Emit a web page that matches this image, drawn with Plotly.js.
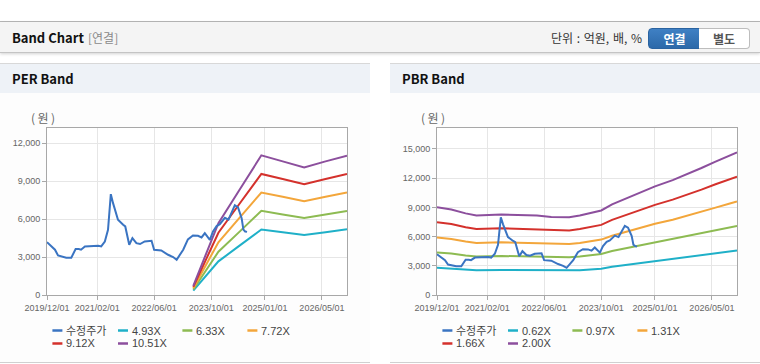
<!DOCTYPE html>
<html>
<head>
<meta charset="utf-8">
<script src="https://cdn.plot.ly/plotly-3.0.1.min.js"></script>
<style>
html,body{margin:0;padding:0;width:760px;height:364px;overflow:hidden;background:#fff;
  font-family:"Noto Sans CJK KR","Noto Sans",sans-serif;}
#topline{position:absolute;left:0;top:21px;width:760px;height:1px;background:#b8b8b8;}
#hdr{position:absolute;left:0;top:22px;width:760px;height:30px;background:#f4f4f4;
  border-bottom:1px solid #c4c4c4;box-shadow:0 1px 3px rgba(0,0,0,0.18);}
#hdr .t{position:absolute;left:12px;top:0;line-height:31px;font-size:13px;font-weight:bold;color:#111;}
#hdr .s{position:absolute;left:88px;top:0;line-height:31px;font-size:12px;color:#8a8a8a;}
#hdr .u{position:absolute;left:551px;top:0;line-height:31px;font-size:12px;color:#333;word-spacing:1px;}
.btn{position:absolute;top:6px;height:19px;line-height:19px;font-size:12px;font-weight:bold;text-align:center;}
#b1{left:648px;width:51px;background:linear-gradient(#3f80c4,#2c69a9);color:#fff;border:1px solid #2a63a0;border-radius:4px 0 0 4px;}
#b2{left:699px;width:50px;background:#fff;color:#555;border:1px solid #bdbdbd;border-left:none;border-radius:0 4px 4px 0;}
.panel{position:absolute;top:63px;width:370px;height:298px;background:#fdfdfd;border-top:1px solid #d8d8d8;border-bottom:1px solid #d0d0d0;}
.ptitle{height:29px;background:#eef2f7;font-weight:bold;font-size:13px;line-height:30px;padding-left:12px;color:#111;}
.chart{position:absolute;left:0;top:29px;width:370px;height:268px;}
</style>
</head>
<body>
<div id="topline"></div>
<div id="hdr">
  <div class="t">Band Chart</div>
  <div class="s">[연결]</div>
  <div class="u">단위 : 억원, 배, %</div>
  <div class="btn" id="b1">연결</div>
  <div class="btn" id="b2">별도</div>
</div>
<div class="panel" style="left:0;">
  <div class="ptitle">PER Band</div>
  <div class="chart" id="per"></div>
</div>
<div class="panel" style="left:390px;">
  <div class="ptitle">PBR Band</div>
  <div class="chart" id="pbr"></div>
</div>
<script>
// ---------- shared axis ticks ----------
const xTickVals = ['2019-12-01','2021-02-01','2022-06-01','2023-10-01','2025-01-01','2026-05-01'];
const xTickText = ['2019/12/01','2021/02/01','2022/06/01','2023/10/01','2025/01/01','2026/05/01'];
const xRange = ['2019-12-01','2026-12-01'];

// ---------- adjusted share price (수정주가) ----------
const priceDates = ['2019-12-01','2020-01-07','2020-02-07','2020-03-04','2020-04-16','2020-05-13','2020-06-25',
  '2020-08-01','2020-08-28','2020-09-16','2020-10-19','2021-01-13','2021-02-10','2021-03-07','2021-04-07',
  '2021-05-04','2021-05-19','2021-05-28','2021-06-16','2021-07-28','2021-09-10','2021-09-28','2021-11-01',
  '2021-11-28','2022-01-01','2022-02-01','2022-03-13','2022-05-10','2022-06-01','2022-08-01','2022-09-28',
  '2022-11-10','2022-12-10','2023-01-07','2023-02-04','2023-03-16','2023-04-28','2023-06-10','2023-07-10',
  '2023-08-07','2023-09-19','2023-10-16','2023-11-16','2023-12-13','2024-01-25','2024-02-25','2024-03-22',
  '2024-04-19','2024-05-16','2024-06-16','2024-07-01','2024-07-16','2024-08-01'];
const priceVals = [4180,3840,3580,3130,3020,2950,2950,
  3630,3630,3580,3840,3890,3900,3840,4230,
  5150,6730,7970,7260,5950,5550,5420,3970,
  4500,4100,4030,4230,4290,3580,3520,3180,
  3000,2790,3200,3580,4400,4700,4680,4550,
  4880,4350,5020,5450,5600,6100,5950,6570,
  7100,6920,6070,5170,5020,4990];

// ---------- PER bands ----------
const perDates = ['2023-05-01','2023-08-01','2023-12-01','2024-06-01','2024-12-01','2025-06-01','2025-12-01','2026-06-01','2026-12-01'];
const perNames = ['4.93X','6.33X','7.72X','9.12X','10.51X'];
const per493  = [350, 1340, 2660, 3920, 5180, 4960, 4740, 4960, 5190];
const per633  = [440, 1720, 3420, 5030, 6650, 6360, 6080, 6360, 6640];
const per772  = [540, 2090, 4170, 6140, 8100, 7760, 7410, 7760, 8100];
const per912  = [640, 2470, 4920, 7250, 9570, 9170, 8760, 9170, 9560];
const per1051 = [730, 2850, 5680, 8360, 11040, 10560, 10080, 10560, 11000];

// ---------- PBR bands ----------
const pbrDates = ['2019-12-01','2020-04-01','2020-08-01','2020-11-01','2021-06-01','2022-04-01','2022-08-01',
  '2023-01-01','2023-04-01','2023-07-01','2023-10-01','2024-01-01','2024-04-01','2024-08-01','2025-01-01',
  '2025-06-01','2025-10-01','2026-02-01','2026-06-01','2026-10-01','2026-12-01'];
const pbrNames = ['0.62X','0.97X','1.31X','1.66X','2.00X'];
const pbr062 = [2810,2730,2600,2540,2570,2540,2500,2490,2540,2610,2700,2890,3030,3230,3460,3660,3850,4050,4250,4450,4570];
const pbr097 = [4370,4260,4060,3960,4010,3960,3890,3870,3960,4070,4210,4510,4730,5040,5410,5720,6010,6320,6640,6950,7100];
const pbr131 = [5900,5750,5490,5350,5410,5350,5250,5230,5350,5500,5690,6090,6390,6810,7310,7730,8120,8540,8970,9390,9610];
const pbr166 = [7470,7290,6960,6770,6860,6770,6660,6620,6770,6970,7200,7720,8100,8630,9260,9790,10290,10820,11370,11900,12140];
const pbr200 = [9000,8780,8380,8160,8260,8160,8020,7980,8160,8400,8680,9300,9760,10400,11160,11800,12400,13040,13700,14340,14650];

const priceName = '수정주가';
const priceColor = '#3a74c2';
const bandColors = ['#1fb0c8','#8dbb52','#f3a63b','#d4312c','#8c4f9d'];

function buildChart(id, bandDates, bandSeries, bandNames, yMax) {
  const traces = [];
  bandSeries.forEach((vals, i) => {
    traces.push({type:'scatter', mode:'lines', x:bandDates, y:vals, name:bandNames[i],
      line:{color:bandColors[i], width:2}, showlegend:false, hoverinfo:'skip'});
  });
  traces.push({type:'scatter', mode:'lines', x:priceDates, y:priceVals, name:priceName,
    line:{color:priceColor, width:2}, showlegend:false, hoverinfo:'skip'});

  // custom legend (short line samples like the original)
  const legNames = [priceName].concat(bandNames);
  const legColors = [priceColor].concat(bandColors);
  const offs = [5.4, 71, 135.4, 200.4];
  const rows = [-0.2126, -0.2904];
  const pw = 300;
  const shapes = [], ann = [];
  legNames.forEach((nm, i) => {
    const r = Math.floor(i / 4), c = i % 4;
    const x0 = offs[c];
    shapes.push({type:'line', xref:'paper', yref:'paper', x0:x0/pw, x1:(x0+10)/pw, y0:rows[r], y1:rows[r],
      line:{color:legColors[i], width:2.5}});
    ann.push({xref:'paper', yref:'paper', x:(x0+12)/pw, y:rows[r], xanchor:'left', yanchor:'middle',
      text:nm, showarrow:false, font:{size:11, color:'#444', family:'Liberation Sans, Noto Sans CJK KR'}});
  });
  ann.push({xref:'paper', yref:'paper', x:-0.014, y:1.06, xanchor:'center', yanchor:'middle',
    text:'(\u2009원\u2009)', showarrow:false, font:{size:12, color:'#666', family:'Noto Sans CJK KR'}});

  const layout = {
    width:370, height:268,
    margin:{l:47, r:23, t:35, b:66, pad:0},
    paper_bgcolor:'#fdfdfd', plot_bgcolor:'#ffffff',
    showlegend:false,
    xaxis:{type:'date', range:xRange, tickvals:xTickVals, ticktext:xTickText,
      showgrid:true, gridcolor:'#e6e6e6', gridwidth:1,
      showline:true, linecolor:'#a8a8a8', linewidth:1, mirror:true,
      ticks:'outside', ticklen:4, tickcolor:'#a8a8a8',
      tickfont:{family:'Liberation Sans', size:9, color:'#666'}, zeroline:false, fixedrange:true},
    yaxis:{range:[0, yMax], tick0:0, dtick:3000, tickformat:',d',
      showgrid:true, gridcolor:'#e6e6e6', gridwidth:1,
      showline:true, linecolor:'#a8a8a8', linewidth:1, mirror:true,
      ticks:'outside', ticklen:4, tickcolor:'#a8a8a8',
      tickfont:{family:'Liberation Sans', size:9, color:'#666'}, zeroline:false, fixedrange:true},
    shapes:shapes, annotations:ann
  };
  Plotly.newPlot(id, traces, layout, {displayModeBar:false, staticPlot:true});
}

buildChart('per', perDates, [per493, per633, per772, per912, per1051], perNames, 13200);
buildChart('pbr', pbrDates, [pbr062, pbr097, pbr131, pbr166, pbr200], pbrNames, 17150);
</script>
</body>
</html>
